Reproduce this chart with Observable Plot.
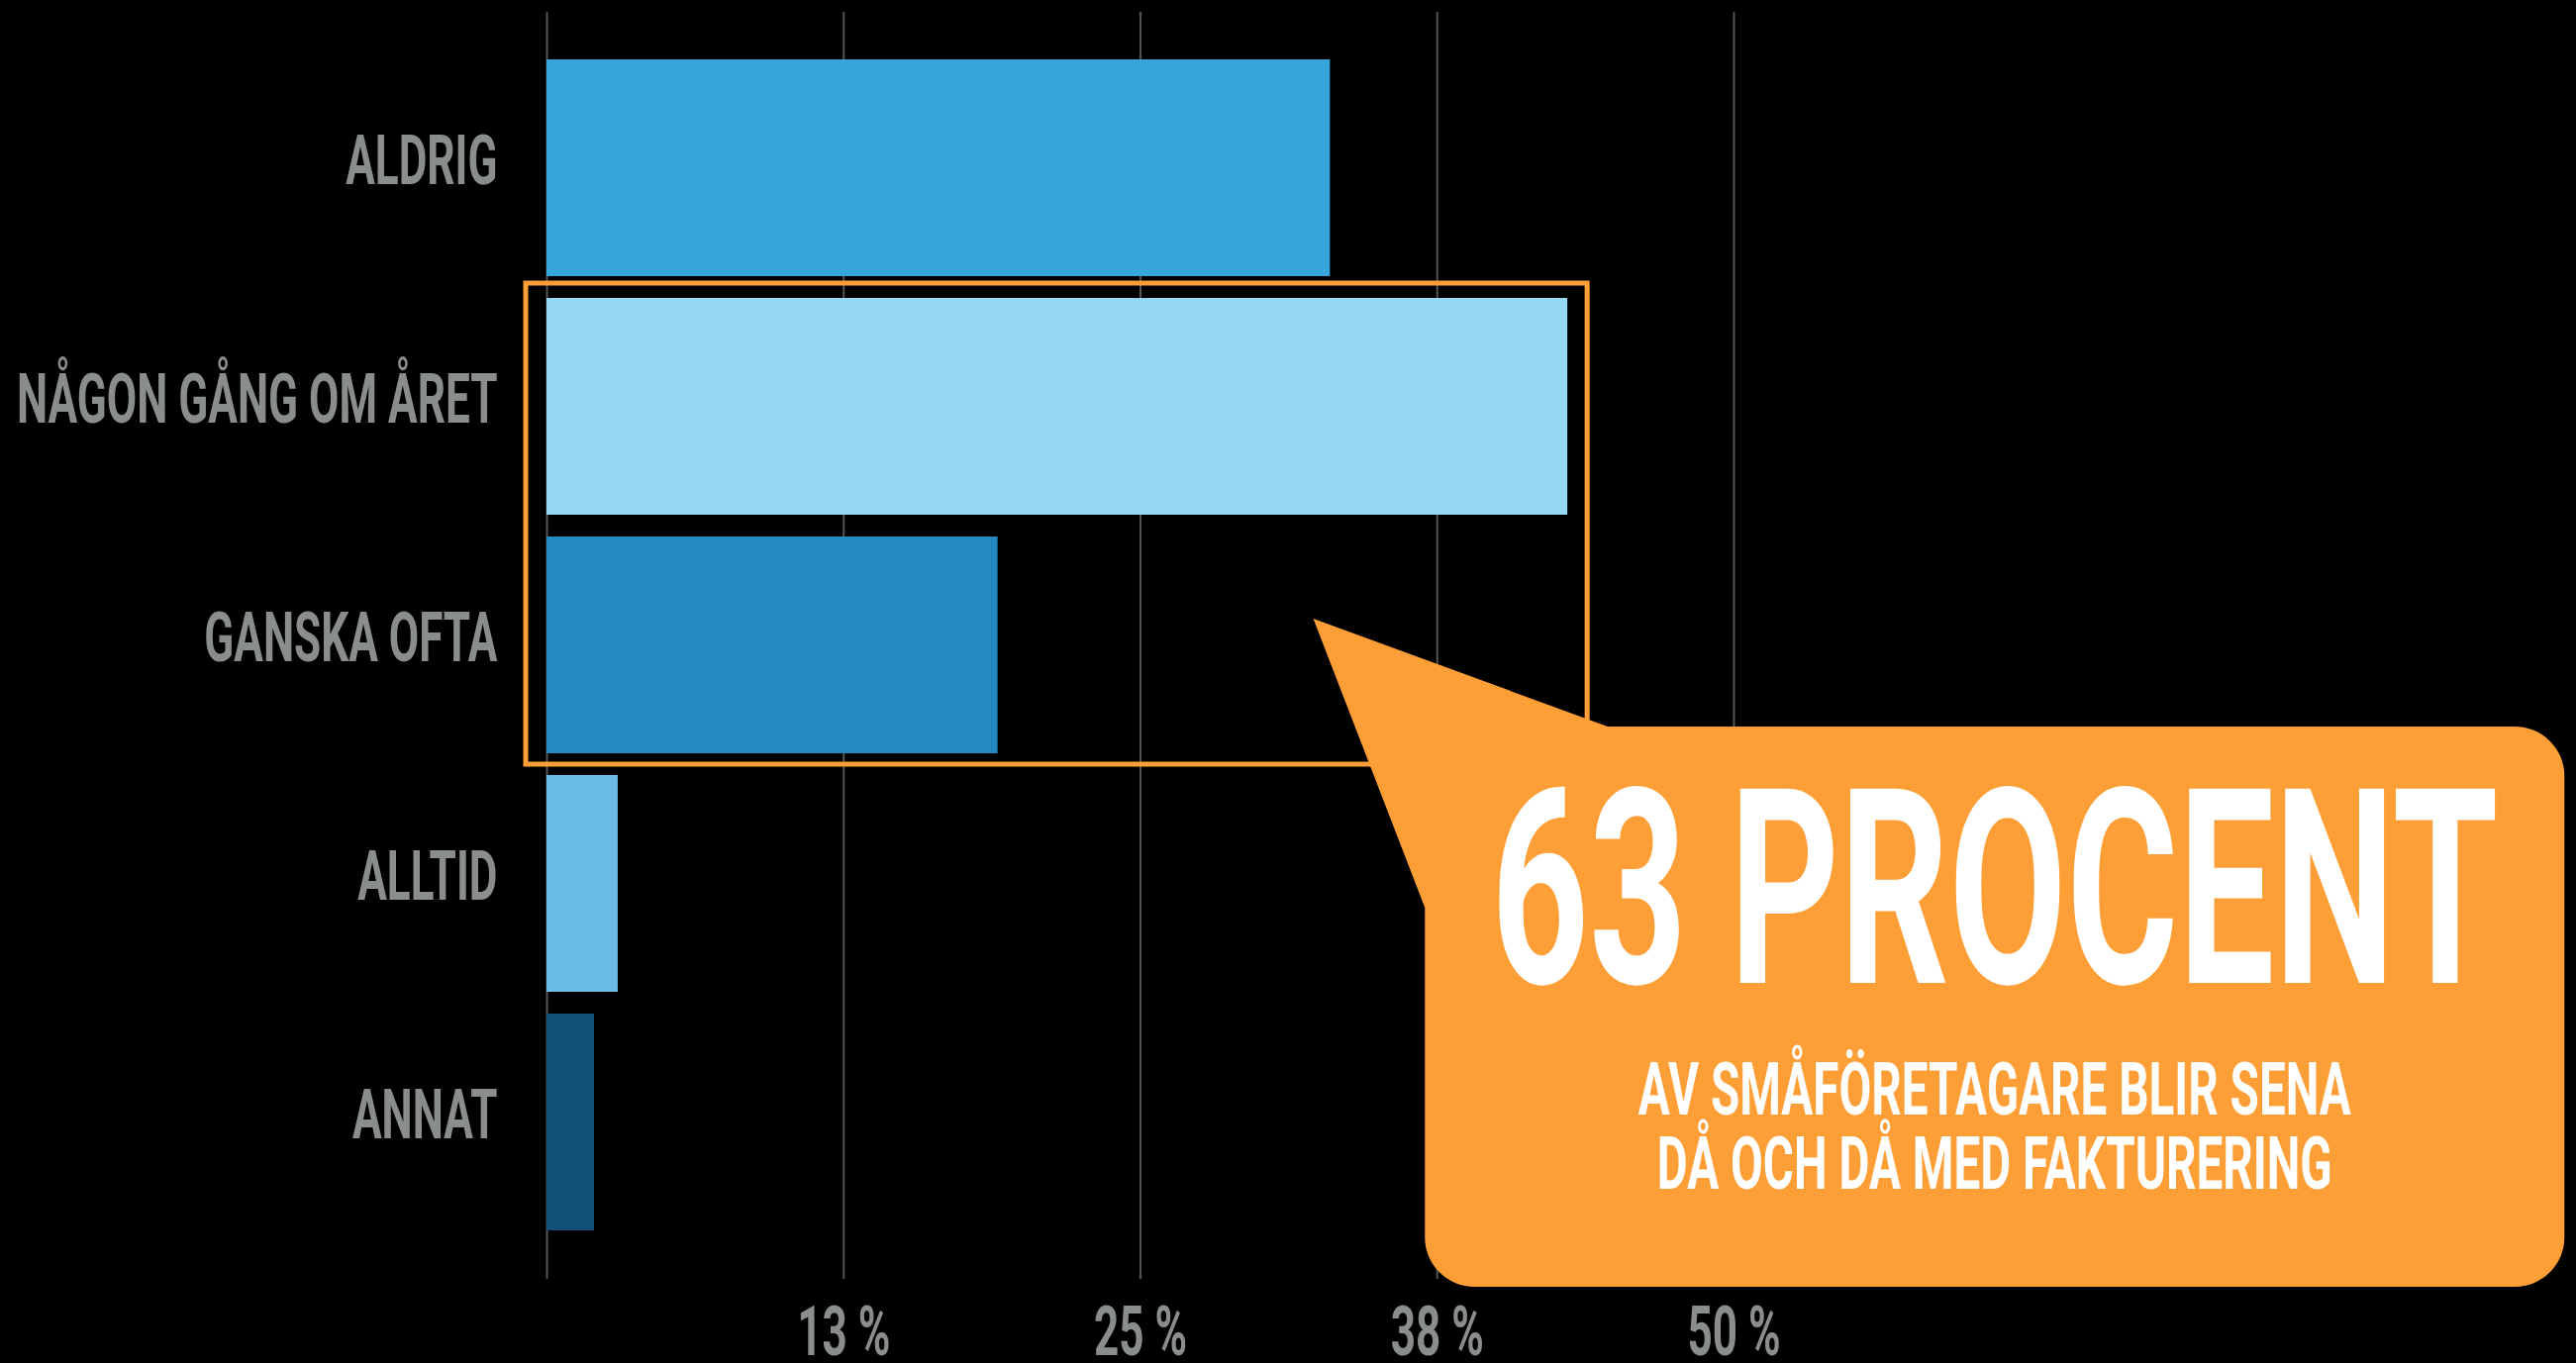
<!DOCTYPE html>
<html><head><meta charset="utf-8">
<script src="https://cdn.jsdelivr.net/npm/d3@7"></script>
<script src="https://cdn.jsdelivr.net/npm/@observablehq/plot@0.6"></script>
<style>
html,body{margin:0;padding:0;background:#000;overflow:hidden;}
#chart{width:2602px;height:1377px;}
</style></head><body><div id="chart"></div>
<script>
// ---- data ----
const categories = ["ALDRIG", "NÅGON GÅNG OM ÅRET", "GANSKA OFTA", "ALLTID", "ANNAT"];
const values = [33, 43, 19, 3, 2];
const colors = ["#36a5db", "#97d9f5", "#2589c1", "#6bbbe9", "#12507a"];
const xTicks = [12.5, 25, 37.5, 50];
const tickLabels = ["13 %", "25 %", "38 %", "50 %"];
const highlighted = ["NÅGON GÅNG OM ÅRET", "GANSKA OFTA"];
const calloutTitle = "63 PROCENT";
const calloutLines = ["AV SMÅFÖRETAGARE BLIR SENA", "DÅ OCH DÅ MED FAKTURERING"];

const data = categories.map((c, i) => ({category: c, value: values[i]}));

const W = 2602, H = 1377;
const FONT = "Roboto, 'Open Sans', sans-serif";
const SQUEEZE = 0.63;
const ORANGE = "#fe9e36";
const GRAY = "#8a8d8d";

const plot = Plot.plot({
  width: W, height: H,
  marginLeft: 552, marginRight: 851, marginTop: 12, marginBottom: 85,
  style: {background: "#000", color: GRAY, fontFamily: FONT},
  x: {domain: [0, 50], axis: null},
  y: {domain: categories, paddingInner: 0.09, paddingOuter: 0.198, axis: null},
  color: {domain: categories, range: colors},
  marks: [
    Plot.ruleX([0, ...xTicks], {stroke: "#555", strokeWidth: 2}),
    Plot.barX(data, {x: "value", y: "category", fill: "category"}),
    Plot.text(categories, {x: 0, y: d => d, text: d => d, textAnchor: "end", dx: -50, dy: -6,
      fontSize: 70, fontWeight: 700, fill: GRAY}),
    Plot.text(xTicks, {x: d => d, frameAnchor: "bottom", text: (d, i) => tickLabels[i],
      lineAnchor: "top", dy: 27, fontSize: 70, fontWeight: 700, fill: GRAY})
  ]
});

// condense all text (DIN Condensed look)
d3.select(plot).selectAll("text").each(function() {
  const t = this.getAttribute("transform") || "";
  this.setAttribute("transform", t + ` scale(${SQUEEZE},1)`);
});

// ---- annotations (highlight box + callout) ----
const sx = plot.scale("x"), sy = plot.scale("y");
const X = v => sx.apply(v);
const bw = sy.bandwidth;
const svg = d3.select(plot);
const hiTop = sy.apply(highlighted[0]) - 15;
const hiBot = sy.apply(highlighted[highlighted.length - 1]) + bw + 11;
const hiMax = d3.max(data.filter(d => highlighted.includes(d.category)), d => d.value);
svg.append("rect")
  .attr("x", X(0) - 21).attr("y", hiTop)
  .attr("width", X(hiMax) + 20 - (X(0) - 21)).attr("height", hiBot - hiTop)
  .attr("fill", "none").attr("stroke", ORANGE).attr("stroke-width", 5);

const co = {tipX: 32.3, tipY: 625, left: 37, right: 85, baseRightX: 44.7, top: 734, joinY: 917, bottom: 1300, r: 50, cx: 61};
const L = X(co.left), R = X(co.right), r = co.r;
const path = [
  `M${X(co.tipX)},${co.tipY}`,
  `L${X(co.baseRightX)},${co.top}`,
  `L${R - r},${co.top}`,
  `A${r},${r} 0 0 1 ${R},${co.top + r}`,
  `L${R},${co.bottom - r}`,
  `A${r},${r} 0 0 1 ${R - r},${co.bottom}`,
  `L${L + r},${co.bottom}`,
  `A${r},${r} 0 0 1 ${L},${co.bottom - r}`,
  `L${L},${co.joinY}`, "Z"].join(" ");
svg.append("path").attr("d", path).attr("fill", ORANGE);

function addText(lines, x, y, size, k, lineStep) {
  const t = svg.append("text")
    .attr("transform", `translate(${x},${y}) scale(${k},1)`)
    .attr("text-anchor", "middle")
    .attr("font-family", FONT).attr("font-weight", 700)
    .attr("font-size", size).attr("fill", "#fff");
  lines.forEach((s, i) => t.append("tspan").attr("x", 0).attr("y", i * (lineStep || 0)).text(s));
}
addText([calloutTitle], X(co.cx), 993, 276, 0.625);
addText(calloutLines, X(co.cx), 1126, 75, 0.635, 75);

document.getElementById("chart").appendChild(plot);
</script></body></html>
